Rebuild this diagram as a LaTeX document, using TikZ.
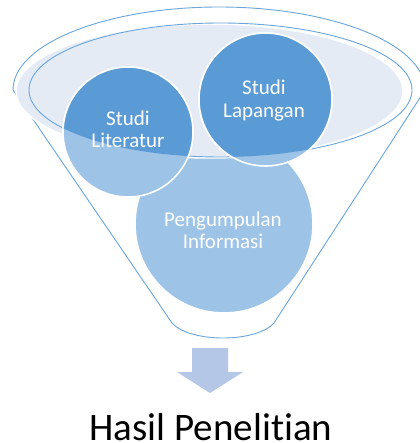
\documentclass[tikz,border=0pt]{standalone}
\usepackage{fontspec}
\setmainfont{Carlito}[Ligatures=NoCommon]
\definecolor{dkblue}{HTML}{5B9BD5}
\definecolor{ltblue}{HTML}{9DC3E6}
\definecolor{rimfill}{HTML}{E4EBF5}
\definecolor{linec}{HTML}{6AA5DB}
\definecolor{arrowc}{HTML}{B4C7E7}
\begin{document}
\begin{tikzpicture}[x=1pt,y=-1pt,
  funnelline/.style={draw=linec, line width=0.9pt, line join=round},
  ltcirc/.style={circle, fill=ltblue, draw=white, line width=1.6pt, inner sep=0pt, outer sep=0pt},
  dkcirc/.style={fill=dkblue, draw=white, line width=1.6pt},
  intext/.style={text=white, align=center, font=\fontsize{21}{22.5}\selectfont, inner sep=0pt},
  outtext/.style={text=black, font=\fontsize{39}{46}\selectfont, inner sep=0pt}]
\useasboundingbox (0,0) rectangle (419,443);
\fill[white] (0,0) rectangle (419,443);
% funnel outline
\draw[funnelline] (13,90) arc[start angle=180, end angle=360, x radius=206, y radius=83]
  -- (274,323) .. controls (256,343) and (190,343) .. (172,323) -- cycle;
% bottom circle (behind the rim)
\node[ltcirc, minimum size=178pt] (peng) at (224,224) {};
% rim fill and rim line
\fill[rimfill, draw=white, line width=1.5pt] (209.5,91) ellipse[x radius=193.5, y radius=67];
\draw[funnelline] (220.5,90) ellipse[x radius=191.5, y radius=67];
% upper circles
\node[ltcirc, minimum size=130pt] (lit) at (128,132) {};
\node[ltcirc, minimum size=133pt] (lap) at (265.5,99.5) {};
\begin{scope}
  \clip (220.5,90) ellipse[x radius=191.5, y radius=67];
  \draw[dkcirc] (lit.center) circle[radius=65];
  \draw[dkcirc] (lap.center) circle[radius=66.5];
\end{scope}
% texts
\node[intext] (tlit) at (128,129.5) {Studi\\Literatur};
\node[intext] (tlap) at (264,100.3) {Studi\\Lapangan};
\node[intext] (tpeng) at (223,230.5) {Pengumpulan\\Informasi};
% arrow
\fill[arrowc] (192,348) -- (228,348) -- (228,372) -- (243,372) -- (210,393)
  -- (177,372) -- (192,372) -- cycle;
\node[outtext, anchor=base] (hasil) at (211,440) {Hasil Penelitian};
\end{tikzpicture}
\end{document}
